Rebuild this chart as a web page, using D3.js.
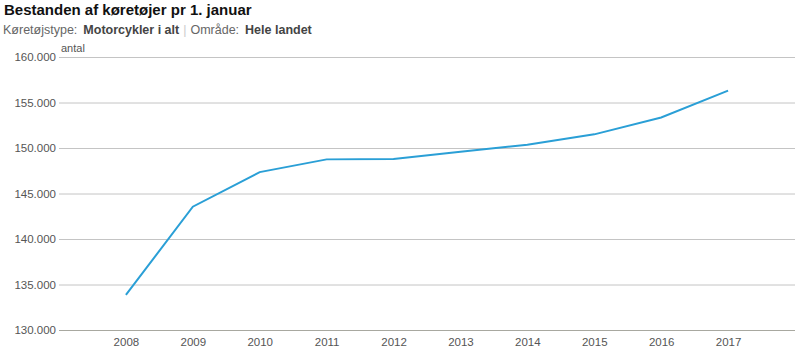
<!DOCTYPE html>
<html><head><meta charset="utf-8">
<script src="https://cdn.jsdelivr.net/npm/d3@7"></script>
<style>
body{margin:0;background:#fff;font-family:Arial,"Liberation Sans",sans-serif;}
</style></head>
<body>
<svg id="c" width="800" height="355"></svg>
<script>
const years = ["2008","2009","2010","2011","2012","2013","2014","2015","2016","2017"];
const values = [133850,143550,147350,148750,148800,149600,150350,151500,153350,156300];
const yTicks = [130000,135000,140000,145000,150000,155000,160000];

(function(){
const svg = d3.select("#c");
const mLeft = 59, mRight = 795, mTop = 57, mBottom = 330;
const x = d3.scalePoint().domain(years).range([mLeft,mRight]).padding(1);
const y = d3.scaleLinear().domain([130000,160000]).range([mBottom,mTop]);
const fmt = d => d3.format(",")(d).replace(/,/g,".");

svg.append("text").attr("x",4).attr("y",15).attr("font-size",15).attr("font-weight","bold").attr("fill","#111").text("Bestanden af køretøjer pr 1. januar");
const sub = svg.append("text").attr("x",3).attr("y",34).attr("font-size",12.5);
sub.append("tspan").attr("fill","#666").text("Køretøjstype:");
sub.append("tspan").attr("dx",6).attr("fill","#444").attr("font-weight","bold").text("Motorcykler i alt");
sub.append("tspan").attr("dx",4).attr("fill","#ccc").text("|");
sub.append("tspan").attr("dx",4).attr("fill","#666").text("Område:");
sub.append("tspan").attr("dx",6).attr("fill","#444").attr("font-weight","bold").text("Hele landet");

svg.append("text").attr("x",61).attr("y",52).attr("font-size",11).attr("fill","#555").text("antal");

const ga = svg.append("g").attr("transform",`translate(${mLeft},0)`)
  .call(d3.axisLeft(y).tickValues(yTicks).tickSize(-(mRight-mLeft)).tickPadding(3).tickFormat(fmt));
ga.select(".domain").remove();
ga.selectAll(".tick line").attr("stroke",d=>d===130000?"#a8a8a0":"#c4c4c4");
ga.selectAll(".tick text").attr("font-size",11.5).attr("fill","#555").attr("font-family","Arial,'Liberation Sans',sans-serif");

const gx = svg.append("g").attr("transform",`translate(0,${mBottom})`)
  .call(d3.axisBottom(x).tickSize(0).tickPadding(8));
gx.select(".domain").remove();
gx.selectAll(".tick text").attr("font-size",11.5).attr("fill","#555").attr("font-family","Arial,'Liberation Sans',sans-serif");

svg.append("path").datum(values)
  .attr("fill","none").attr("stroke","#2a9fd6").attr("stroke-width",2)
  .attr("d", d3.line().x((d,i)=>x(years[i])).y(d=>y(d)));
})();
</script>
</body></html>
